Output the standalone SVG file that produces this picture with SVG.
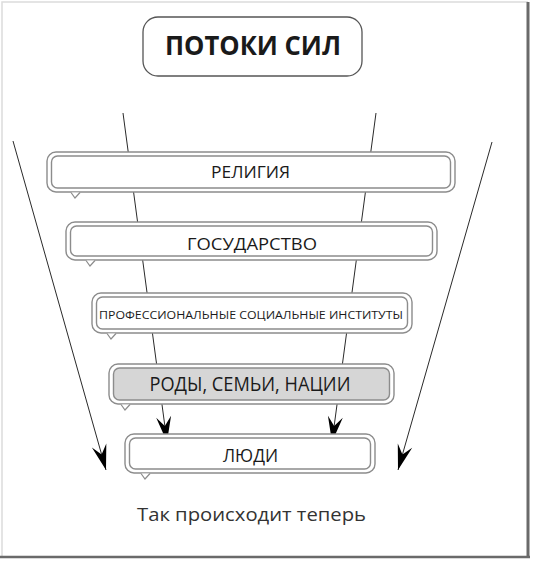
<svg xmlns="http://www.w3.org/2000/svg" width="533" height="561" viewBox="0 0 533 561">
  <defs>
    <marker id="ah" markerUnits="userSpaceOnUse" markerWidth="30" markerHeight="20" viewBox="-24 -8 26 16" refX="0" refY="0" orient="auto">
      <path d="M0,0 L-22,-6.5 L-14,0 L-22,6.5 Z" fill="#000"/>
    </marker>
  </defs>
  <style>
    .frame-l { stroke: #dcdcdc; stroke-width: 1.5; fill: none; }
    .frame-d { stroke: #6a6a6a; stroke-width: 3; fill: none; }
    .out { fill: #fff; stroke: #8c8c8c; stroke-width: 1.4; }
    .in { fill: #fff; stroke: #8c8c8c; stroke-width: 1.4; }
    .in.grey { fill: #d6d6d6; }
    .tail { fill: #fff; stroke: #8c8c8c; stroke-width: 1.2; stroke-linejoin: miter; }
    .flow { stroke: #2a2a2a; stroke-width: 1; fill: none; marker-end: url(#ah); }
    .lbl { font-family: "Open Sans", "Noto Sans", "Liberation Sans", sans-serif; fill: #1a1a1a; text-anchor: middle; }
  </style>
  <rect x="0" y="0" width="533" height="561" fill="#fff"/>
  <g id="frame">
    <path class="frame-l" d="M2,557 L2,2 L528,2"/>
    <line class="frame-d" x1="528" y1="2" x2="528" y2="558"/>
    <line class="frame-d" x1="0" y1="557" x2="530" y2="557" style="stroke-width:2.5"/>
  </g>
  <g id="connectors">
    <line class="flow" x1="13" y1="141" x2="106" y2="470"/>
    <line class="flow" x1="123" y1="113" x2="167" y2="442"/>
    <line class="flow" x1="376" y1="113" x2="332" y2="442"/>
    <line class="flow" x1="492" y1="142" x2="398" y2="470"/>
  </g>
  <g id="title">
    <rect x="143" y="17" width="219" height="59" rx="15" fill="#fff" stroke="#555" stroke-width="1.3"/>
    <text class="lbl" x="253" y="55" font-size="27" font-weight="bold" textLength="176" lengthAdjust="spacingAndGlyphs">ПОТОКИ СИЛ</text>
  </g>
  <g id="religion">
    <rect class="out" x="47" y="152" width="408" height="40" rx="9"/>
    <rect class="in" x="51.5" y="156" width="399" height="32" rx="6"/>
    <path class="tail" d="M71,192.5 L75,198 L80,192.5"/>
    <text class="lbl" x="250.5" y="178" font-size="17" textLength="79" lengthAdjust="spacingAndGlyphs">РЕЛИГИЯ</text>
  </g>
  <g id="state">
    <rect class="out" x="66" y="222" width="371" height="38" rx="9"/>
    <rect class="in" x="70.5" y="226" width="362" height="30" rx="6"/>
    <path class="tail" d="M86,260.5 L90,266 L95,260.5"/>
    <text class="lbl" x="252" y="250" font-size="17" textLength="130" lengthAdjust="spacingAndGlyphs">ГОСУДАРСТВО</text>
  </g>
  <g id="institutions">
    <rect class="out" x="92" y="293" width="320" height="40" rx="9"/>
    <rect class="in" x="96.5" y="297" width="311" height="32" rx="6"/>
    <path class="tail" d="M107,333.5 L111,339 L116,333.5"/>
    <text class="lbl" x="251" y="319" font-size="11" textLength="304" lengthAdjust="spacingAndGlyphs">ПРОФЕССИОНАЛЬНЫЕ СОЦИАЛЬНЫЕ ИНСТИТУТЫ</text>
  </g>
  <g id="kin">
    <rect class="out" x="109" y="364" width="285" height="40" rx="9"/>
    <rect class="in grey" x="113.5" y="368" width="276" height="32" rx="6"/>
    <path class="tail" d="M121,404.5 L125,410 L130,404.5"/>
    <text class="lbl" x="250" y="391" font-size="19.5" textLength="201" lengthAdjust="spacingAndGlyphs">РОДЫ, СЕМЬИ, НАЦИИ</text>
  </g>
  <g id="people">
    <rect class="out" x="125" y="434" width="250" height="39" rx="9"/>
    <rect class="in" x="129.5" y="438" width="241" height="31" rx="6"/>
    <path class="tail" d="M141,473.5 L145,479 L150,473.5"/>
    <text class="lbl" x="250.5" y="462" font-size="18.5" textLength="55" lengthAdjust="spacingAndGlyphs">ЛЮДИ</text>
  </g>
  <text class="lbl" x="251.5" y="521" font-size="19" fill="#333" style="fill:#333" textLength="229" lengthAdjust="spacingAndGlyphs">Так происходит теперь</text>
</svg>
